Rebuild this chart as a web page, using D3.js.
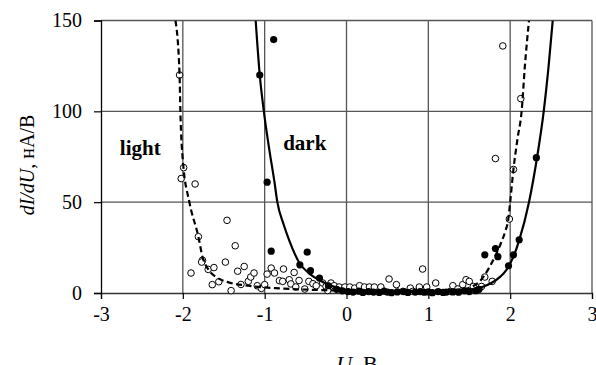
<!DOCTYPE html>
<html>
<head>
<meta charset="utf-8">
<script src="https://cdn.jsdelivr.net/npm/d3@7"></script>
<style>
  body { margin: 0; background: #fff; }
  svg { display: block; }
  svg text { font-family: "Liberation Serif", "Times New Roman", serif; }
</style>
</head>
<body>
<svg id="chart"></svg>
<script>
// tick values
const xTicks = [-3, -2, -1, 0, 1, 2, 3];
const yTicks = [0, 50, 100, 150];

// open circles (light)
const lightU = [-2.04, -1.99, -2.02, -1.85, -1.81, -1.90, -1.76, -1.77, -1.69, -1.62, -1.64, -1.56, -1.48, -1.46,
  -1.36, -1.41, -1.33, -1.29, -1.25, -1.20, -1.17, -1.13, -1.09, -1.04, -1.00, -0.97, -0.92, -0.88, -0.77,
  -0.82, -0.78, -0.70, -0.68, -0.64, -0.62, -0.58, -0.51, -0.46, -0.41, -0.37, -0.29, -0.25, -0.23, -0.19,
  -0.15, -0.09, -0.02, 0.04, 0.10, 0.16, 0.22, 0.28, 0.34, 0.42, 0.52, 0.61, 0.69, 0.78, 0.81, 0.89, 0.93,
  0.98, 1.09, 1.27, 1.30, 1.36, 1.42, 1.46, 1.50, 1.55, 1.65, 1.69, 1.78, 1.99, 2.04, 2.13, 1.82, 1.91];
const lightV = [120, 69, 63, 60, 31, 11, 18, 17, 13, 14, 4.6, 6.2, 17, 40,
  26, 1.3, 12, 4.7, 14.6, 6.4, 8.8, 11, 4, 2.5, 4.6, 10.4, 13.7, 11, 13.2,
  6.8, 6.4, 7.3, 5, 11.3, 3.3, 6.9, 2.2, 6.4, 5.1, 4, 5.5, 3.6, 1.4, 5.5,
  4, 3.3, 3.3, 3.3, 2.7, 4, 3.3, 3.3, 3.3, 3.3, 7.7, 4.6, 0.9, 2.7, 0.9, 3.3, 13.2,
  3.3, 5.5, 0.9, 4, 2.2, 4.6, 7.3, 6.4, 3.6, 3.6, 8.8, 6.4, 40.7, 68, 107, 74, 136];

// filled circles (dark)
const darkU = [-0.89, -1.06, -0.97, -0.92, -0.48, -0.57, -0.44, -0.33, -0.22, -0.12, -0.05, 0.02, 0.08, 0.15,
  0.20, 0.27, 0.33, 0.40, 0.46, 0.50, 0.55, 0.62, 0.70, 0.75, 0.84, 0.90, 0.95, 1.00, 1.05, 1.12, 1.18,
  1.22, 1.30, 1.37, 1.44, 1.50, 1.58, 1.62, 1.69, 1.82, 1.85, 1.98, 2.04, 2.11, 2.32];
const darkV = [139.5, 120, 61, 23, 22.5, 15.5, 12.3, 8.2, 4, 2, 1.2, 0.8, 0.5, 1,
  0.3, 0.8, 0.5, 0.3, 1, 0.5, 0.2, 0.6, 0.8, 0.3, 0.5, 0.8, 0.4, 0.6, 0.2, 0.8, 0.3,
  0.5, 0.6, 0.4, 1.2, 0.8, 1.3, 2, 21, 24.5, 20, 15, 21, 29.3, 74.5];

// fitted curves
const darkFitU = [-1.11, -1.06, -1.01, -0.94, -0.88, -0.845, -0.77, -0.70, -0.575, -0.45, -0.33, -0.2, -0.05,
  0.2, 0.6, 1.0, 1.3, 1.5, 1.65, 1.77, 1.88, 1.95, 2.04, 2.11, 2.23, 2.33, 2.41, 2.47, 2.52];
const darkFitV = [150, 120, 100, 78, 61, 50, 38, 29, 16.5, 10.5, 7, 4.2, 2.2,
  1.2, 0.6, 0.6, 1, 1.8, 3.2, 5.5, 9, 12.5, 20, 29, 50, 75, 100, 125, 150];
const lightFitU = [-2.09, -2.04, -2.03, -2.0, -1.92, -1.81, -1.76, -1.69, -1.6, -1.45, -1.2, -0.8, -0.3,
  0.2, 0.7, 1.1, 1.4, 1.54, 1.62, 1.69, 1.78, 1.87, 1.94, 1.975, 2.0, 2.04, 2.09, 2.14, 2.18, 2.23];
const lightFitV = [150, 120, 100, 73, 50, 31, 20, 13, 9, 6, 4, 2.5, 1.6,
  1.3, 1.2, 1.4, 2, 3.6, 6, 10, 17, 25.6, 34, 40, 50, 68, 85, 100, 125, 150];

const W = 596, H = 365;
const margin = { top: 20.5, right: 4, bottom: 72, left: 101 };
const width = W - margin.left - margin.right,
  height = H - margin.top - margin.bottom;

const x = d3.scaleLinear().domain([-3, 3]).range([0, width]);
const y = d3.scaleLinear().domain([0, 150]).range([height, 0]);

const svg = d3.select("#chart").attr("width", W).attr("height", H);
const g = svg.append("g").attr("transform", "translate(" + margin.left + "," + margin.top + ")");

g.append("defs").append("clipPath").attr("id", "clip")
  .append("rect").attr("x", -2).attr("y", 0).attr("width", width + 4).attr("height", height);

// grid
g.append("g").selectAll("line").data(xTicks.slice(1)).enter().append("line")
  .attr("x1", d => x(d)).attr("x2", d => x(d)).attr("y1", 0).attr("y2", height)
  .attr("stroke", "#555").attr("stroke-width", 1.3);
g.append("g").selectAll("line").data(yTicks.slice(1)).enter().append("line")
  .attr("x1", 0).attr("x2", width).attr("y1", d => y(d)).attr("y2", d => y(d))
  .attr("stroke", "#555").attr("stroke-width", 1.3);

// axes
const xAxis = g.append("g").attr("transform", "translate(0," + height + ")")
  .call(d3.axisBottom(x).tickValues(xTicks).tickSize(6).tickPadding(8).tickFormat(d => d < 0 ? "-" + Math.abs(d) : d));
const yAxis = g.append("g")
  .call(d3.axisLeft(y).tickValues(yTicks).tickSize(7).tickPadding(12));
xAxis.select(".domain").attr("stroke", "#333").attr("stroke-width", 1.3);
yAxis.select(".domain").attr("stroke", "#000").attr("stroke-width", 1.3);
[xAxis, yAxis].forEach(a => {
  a.attr("font-family", null).attr("font-size", 20);
  a.selectAll(".tick line").attr("stroke", "#000").attr("stroke-width", 1.2);
  a.selectAll("text").attr("fill", "#000").style("font-family", "'Liberation Serif', serif");
});

// points
const light = lightU.map((u, i) => [u, lightV[i]]);
const dark = darkU.map((u, i) => [u, darkV[i]]);

g.append("g").selectAll("circle").data(light).enter().append("circle")
  .attr("cx", d => x(d[0])).attr("cy", d => y(d[1])).attr("r", 3.3)
  .attr("fill", "#fff").attr("stroke", "#000").attr("stroke-width", 1);
g.append("g").selectAll("circle").data(dark).enter().append("circle")
  .attr("cx", d => x(d[0])).attr("cy", d => y(d[1])).attr("r", 3.6)
  .attr("fill", "#000");

// fitted curves
const line = d3.line().x(d => x(d[0])).y(d => y(d[1])).curve(d3.curveMonotoneX);
const curves = g.append("g").attr("clip-path", "url(#clip)");
curves.append("path").datum(darkFitU.map((u, i) => [u, darkFitV[i]]))
  .attr("d", line).attr("fill", "none").attr("stroke", "#000").attr("stroke-width", 2.2);
curves.append("path").datum(lightFitU.map((u, i) => [u, lightFitV[i]]))
  .attr("d", line).attr("fill", "none").attr("stroke", "#000").attr("stroke-width", 2.2)
  .attr("stroke-dasharray", "6,3.5");

// annotations
g.append("text").attr("x", x(-2.52)).attr("y", y(76)).attr("text-anchor", "middle")
  .attr("font-weight", "bold").attr("font-size", 21).text("light");
g.append("text").attr("x", x(-0.51)).attr("y", y(78.7)).attr("text-anchor", "middle")
  .attr("font-weight", "bold").attr("font-size", 21).text("dark");

// axis titles
const yt = svg.append("text").attr("transform", "translate(34,165) rotate(-90)")
  .attr("text-anchor", "middle").attr("font-size", 20);
yt.append("tspan").attr("font-style", "italic").text("dI/dU");
yt.append("tspan").text(", нА/В");

const xt = svg.append("text").attr("x", 357).attr("y", 371)
  .attr("text-anchor", "middle").attr("font-size", 22);
xt.append("tspan").attr("font-style", "italic").text("U");
xt.append("tspan").text(", В");
</script>
</body>
</html>
